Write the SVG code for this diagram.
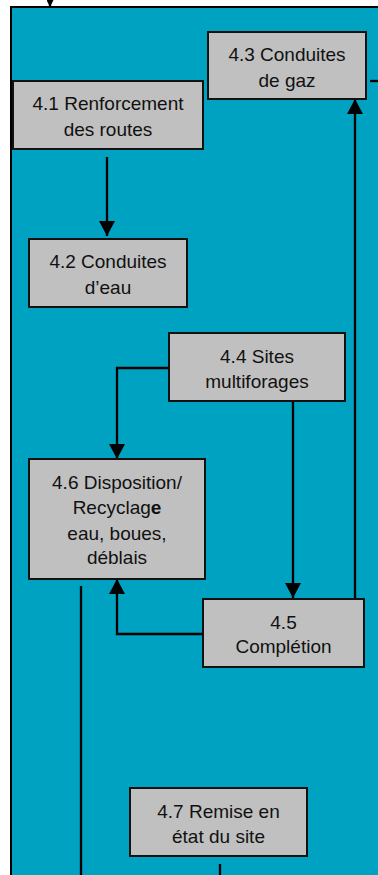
<svg xmlns="http://www.w3.org/2000/svg" width="378" height="875" viewBox="0 0 378 875">
<style>
.panel{fill:#00A2C1;stroke:#000;stroke-width:2}
.box{fill:#C0C0C0;stroke:#111;stroke-width:2}
.t{font-family:"Liberation Sans",Arial,sans-serif;font-size:19px;fill:#111;text-anchor:middle}
.c{fill:none;stroke:#000;stroke-width:2.3}
</style>
<defs>
<marker id="ah" markerUnits="userSpaceOnUse" markerWidth="16" markerHeight="16" viewBox="0 0 16 16" refX="15" refY="8" orient="auto">
<path d="M0,0 L15,8 L0,16 Z" fill="#000"/>
</marker>
<marker id="ahs" markerUnits="userSpaceOnUse" markerWidth="7" markerHeight="7" viewBox="0 0 7 7" refX="7" refY="3.5" orient="auto">
<path d="M0,0 L7,3.5 L0,7 Z" fill="#000"/>
</marker>
</defs>
<rect x="0" y="0" width="378" height="875" fill="#fff"/>
<rect class="panel" x="11" y="7" width="380" height="880"/>
<g id="connectors">
<line class="c" x1="50" y1="0" x2="50" y2="7" stroke-width="1.5" marker-end="url(#ahs)"/>
<line class="c" x1="107" y1="157" x2="107" y2="236" marker-end="url(#ah)"/>
<polyline class="c" points="169,368 117,368 117,459" marker-end="url(#ah)"/>
<line class="c" x1="293" y1="401" x2="293" y2="598" marker-end="url(#ah)"/>
<polyline class="c" points="203,634 117,634 117,579" marker-end="url(#ah)"/>
<line class="c" x1="355" y1="599" x2="355" y2="99" marker-end="url(#ah)"/>
<line class="c" x1="370" y1="81" x2="378" y2="81"/>
<line class="c" x1="81" y1="586" x2="81" y2="876"/>
<line class="c" x1="220" y1="864" x2="220" y2="876"/>
</g>
<g id="n43">
<rect class="box" x="208" y="32" width="158" height="67"/>
<text class="t" x="287" y="61">4.3 Conduites</text>
<text class="t" x="287" y="87">de gaz</text>
</g>
<g id="n41">
<rect class="box" x="13" y="81" width="190" height="68"/>
<text class="t" x="108" y="110">4.1 Renforcement</text>
<text class="t" x="108" y="136">des routes</text>
</g>
<g id="n42">
<rect class="box" x="29" y="239" width="158" height="68"/>
<text class="t" x="108" y="268">4.2 Conduites</text>
<text class="t" x="108" y="294">d’eau</text>
</g>
<g id="n44">
<rect class="box" x="169" y="333" width="176" height="68"/>
<text class="t" x="257" y="363">4.4 Sites</text>
<text class="t" x="257" y="388">multiforages</text>
</g>
<g id="n46">
<rect class="box" x="29" y="459" width="176" height="120"/>
<text class="t" x="117" y="489">4.6 Disposition/</text>
<text class="t" x="117" y="514">Recyclag<tspan font-weight="bold">e</tspan></text>
<text class="t" x="117" y="540">eau, boues,</text>
<text class="t" x="117" y="564">déblais</text>
</g>
<g id="n45">
<rect class="box" x="203" y="599" width="161" height="68"/>
<text class="t" x="283.5" y="629">4.5</text>
<text class="t" x="283.5" y="653">Complétion</text>
</g>
<g id="n47">
<rect class="box" x="130" y="788" width="177" height="68"/>
<text class="t" x="218.5" y="818">4.7 Remise en</text>
<text class="t" x="218.5" y="843">état du site</text>
</g>
</svg>
